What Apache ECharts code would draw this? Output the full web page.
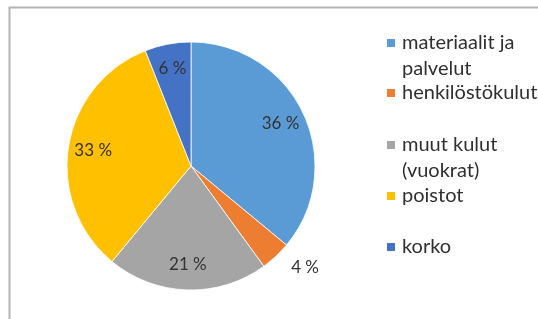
<!DOCTYPE html>
<html>
<head>
<meta charset="utf-8">
<script src="https://cdn.jsdelivr.net/npm/echarts@6/dist/echarts.min.js"></script>
<style>html,body{margin:0;padding:0;background:#fff}#c{width:538px;height:319px}</style>
</head>
<body>
<div id="c"></div>
<script>
var categories = ['materiaalit ja palvelut', 'henkilöstökulut', 'muut kulut (vuokrat)', 'poistot', 'korko'];
var legendLabels = ['materiaalit ja\npalvelut', 'henkilöstökulut', 'muut kulut\n(vuokrat)', 'poistot', 'korko'];
var values = [36, 4, 21, 33, 6];
var colors = ['#5B9BD5', '#ED7D31', '#A5A5A5', '#FFC000', '#4472C4'];

var FONT = 'Lato';
var chart = echarts.init(document.getElementById('c'), null, {renderer: 'canvas'});

var pieData = categories.map(function (n, i) {
  return {name: n, value: values[i], itemStyle: {color: colors[i]}};
});
var labelData = categories.map(function (n, i) {
  var d = {name: n, value: values[i]};
  if (values[i] < 5) {
    d.label = {position: 'outside'};
    d.labelLine = {show: false, length: 15, length2: 0};
  }
  return d;
});

var legendCenters = [43, 93, 145, 196, 247];
var legends = categories.map(function (n, i) {
  var twoLine = legendLabels[i].indexOf('\n') >= 0;
  return {
    data: [n],
    orient: 'vertical',
    left: 385,
    top: legendCenters[i] - (twoLine ? 39 : 13),
    padding: 0,
    icon: 'rect',
    itemWidth: 10,
    itemHeight: 10,
    selectedMode: false,
    formatter: function () { return (twoLine ? '\n' : '') + legendLabels[i]; },
    textStyle: {
      fontFamily: FONT, fontSize: 20, color: '#303030', lineHeight: 26,
      padding: [0, 0, 0, 1]
    }
  };
});

chart.setOption({
  animation: false,
  color: colors,
  graphic: [{
    type: 'rect', silent: true,
    shape: {x: 9.5, y: 7.5, width: 560, height: 340},
    style: {fill: 'none', stroke: '#b4b4b4', lineWidth: 2}
  }],
  legend: legends,
  series: [{
    type: 'pie',
    center: [191, 166],
    radius: [0, 124],
    startAngle: 90,
    clockwise: true,
    label: {show: false},
    labelLine: {show: false},
    itemStyle: {borderColor: '#ffffff', borderWidth: 0.8},
    data: pieData
  }, {
    type: 'pie',
    silent: true,
    center: [191, 166],
    radius: [68, 124],
    startAngle: 90,
    clockwise: true,
    legendHoverLink: false,
    itemStyle: {color: 'rgba(0,0,0,0)'},
    label: {
      show: true, position: 'inside',
      formatter: function (p) { return p.value + ' %'; },
      fontFamily: FONT, fontSize: 17, color: '#333333'
    },
    labelLine: {show: false},
    data: labelData
  }]
});
</script>
</body>
</html>
